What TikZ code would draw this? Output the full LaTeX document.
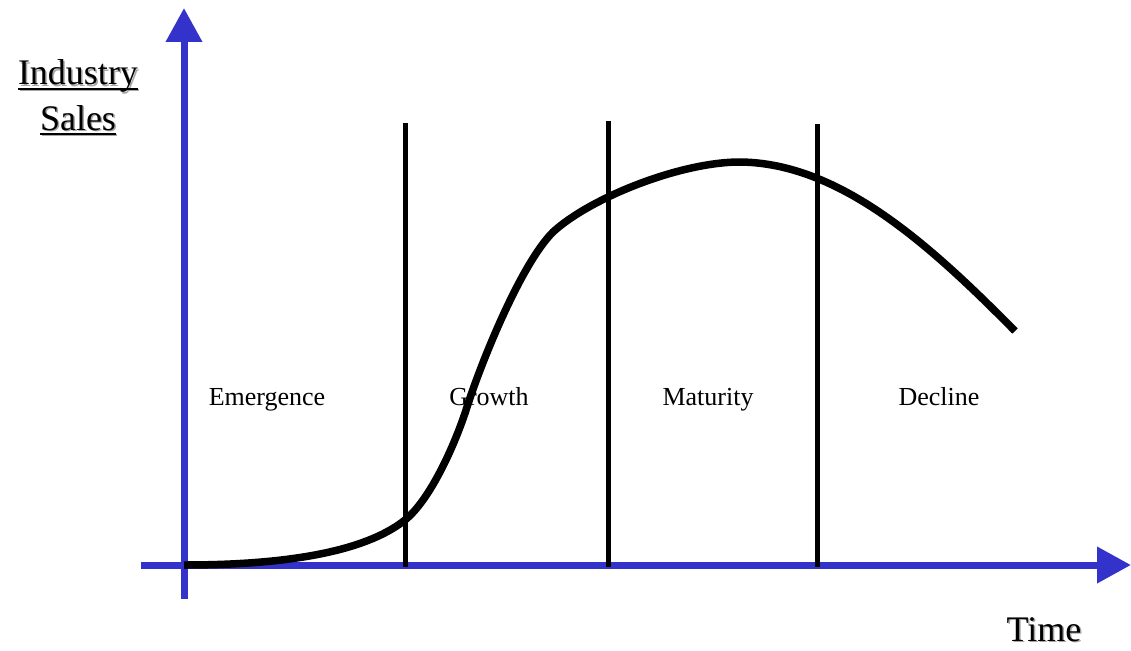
\documentclass[tikz,border=0pt]{standalone}
\usepackage{fontspec}
\setmainfont{Liberation Serif}
\usetikzlibrary{arrows.meta}
\definecolor{axisblue}{RGB}{51,51,204}
\newcommand\shadowtxt[1]{\rlap{\kern1.5pt\raisebox{-1.5pt}{\color{black!35}#1}}#1}
\newcommand\shadowul[1]{\setbox0\hbox{#1}\rlap{\kern1.5pt\raisebox{-1.5pt}{\color{black!35}\rlap{\rule[-5pt]{\wd0}{2pt}}#1}}\rlap{\rule[-5pt]{\wd0}{2pt}}\box0}
\begin{document}
\begin{tikzpicture}[x=1pt,y=-1pt,
  axis/.style={draw=axisblue,line width=7pt,-{Triangle[length=34pt,width=35pt]}},
  divider/.style={draw=black,line width=5pt},
  salescurve/.style={draw=black,line width=7.5pt},
  biglabel/.style={anchor=base,inner sep=0pt,font=\fontsize{36}{40}\selectfont},
  phaselabel/.style={anchor=base,inner sep=0pt,font=\fontsize{26}{30}\selectfont}]
\useasboundingbox (0,0) rectangle (1131,650);
\coordinate (ybot) at (184,599);
\coordinate (ytop) at (184,8);
\coordinate (xleft) at (141,565);
\coordinate (xright) at (1131,565);
\draw[axis] (ybot) -- (ytop);
\draw[axis] (xleft) -- (xright);
\coordinate (d1t) at (405,123); \coordinate (d1b) at (405,567);
\coordinate (d2t) at (608,121); \coordinate (d2b) at (608,567);
\coordinate (d3t) at (817,124); \coordinate (d3b) at (817,567);
\draw[divider] (d1t) -- (d1b);
\draw[divider] (d2t) -- (d2b);
\draw[divider] (d3t) -- (d3b);
\coordinate (c0) at (184,565);
\coordinate (c1) at (405,520);
\coordinate (cm) at (467,407);
\coordinate (c2) at (553,232);
\coordinate (c3) at (740,162);
\coordinate (c4) at (1015,331);
\draw[salescurve] (c0) .. controls (300,565) and (370,548) .. (c1)
  .. controls (430,500) and (455,445) .. (cm)
  .. controls (480,366) and (520,265) .. (c2)
  .. controls (590,198) and (680,162) .. (c3)
  .. controls (840,163) and (930,245) .. (c4);
\node[biglabel] (ind) at (78,85) {\shadowul{Industry}};
\node[biglabel] (sal) at (78,130) {\shadowul{Sales}};
\node[biglabel] (time) at (1044,641) {\shadowtxt{Time}};
\node[phaselabel] (emer) at (267,405) {Emergence};
\node[phaselabel] (grow) at (489,405) {Growth};
\node[phaselabel] (matu) at (708,405) {Maturity};
\node[phaselabel] (decl) at (939,405) {Decline};
\end{tikzpicture}
\end{document}
